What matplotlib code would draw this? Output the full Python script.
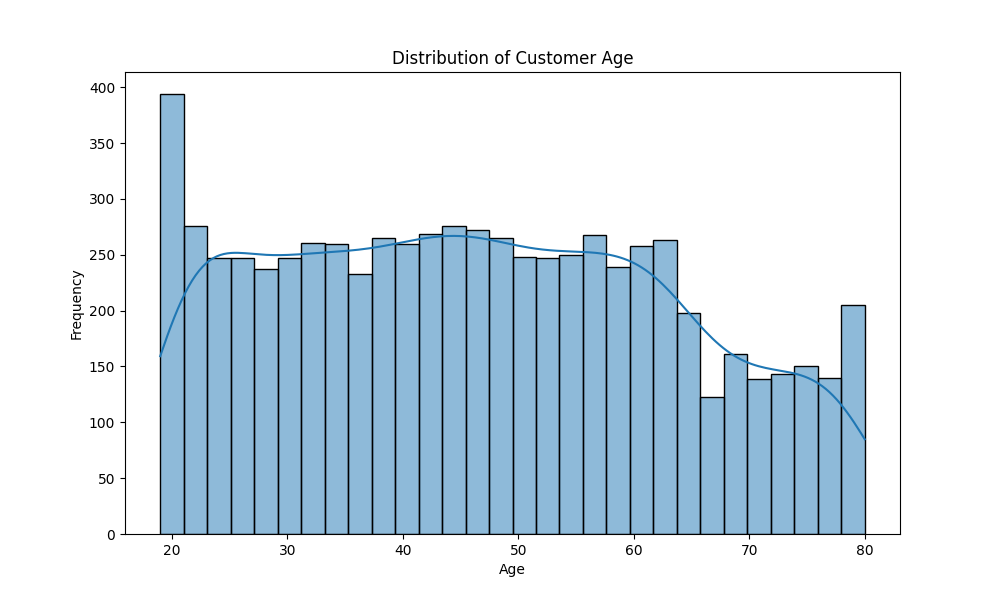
import numpy as np
import matplotlib
matplotlib.use("Agg")
import matplotlib.pyplot as plt
import seaborn as sns

# Histogram data: 30 bins over ages 19..80
age_min = 19
age_max = 80
n_bins = 30
counts = [394, 276, 247, 247, 237, 247, 261, 260, 233, 265,
          260, 269, 276, 272, 265, 248, 247, 250, 268, 239,
          258, 263, 198, 123, 161, 139, 143, 150, 140, 205]

title = "Distribution of Customer Age"
xlabel = "Age"
ylabel = "Frequency"

edges = np.linspace(age_min, age_max, n_bins + 1)
centers = (edges[:-1] + edges[1:]) / 2
w = np.array(counts, dtype=float)

# match bandwidth of KDE on raw data (n = total count) instead of weighted neff
n_total = w.sum()
wn = w / n_total
neff = 1.0 / np.sum(wn ** 2)
bw_adj = 1.25 * (n_total ** -0.2) / (neff ** -0.2)

fig, ax = plt.subplots(figsize=(10, 6), dpi=100)
sns.histplot(x=centers, weights=w, bins=n_bins, binrange=(age_min, age_max),
             kde=True, edgecolor="black", ax=ax,
             kde_kws={"bw_adjust": bw_adj, "cut": 1, "clip": (age_min, age_max)})
ax.set_title(title)
ax.set_xlabel(xlabel)
ax.set_ylabel(ylabel)
fig.savefig("out.png")
